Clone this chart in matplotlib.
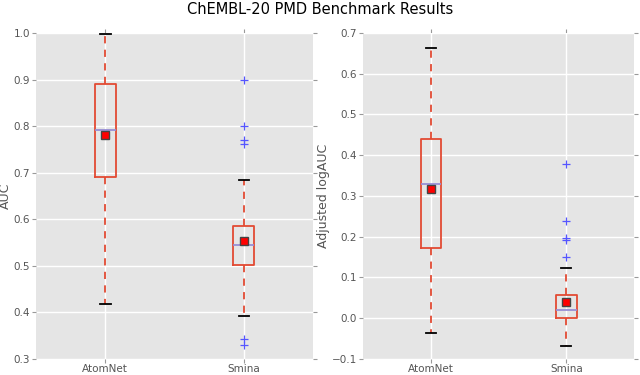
import matplotlib
matplotlib.use("Agg")
import matplotlib.pyplot as plt

categories = ["AtomNet", "Smina"]

# AUC panel: whislo, q1, med, q3, whishi, mean, fliers
auc_whislo = [0.417, 0.392]
auc_q1 = [0.690, 0.502]
auc_med = [0.792, 0.545]
auc_q3 = [0.891, 0.585]
auc_whishi = [0.998, 0.685]
auc_mean = [0.780, 0.553]
auc_fliers = [[], [0.900, 0.800, 0.771, 0.761, 0.343, 0.330]]

# Adjusted logAUC panel
log_whislo = [-0.037, -0.069]
log_q1 = [0.171, 0.000]
log_med = [0.329, 0.021]
log_q3 = [0.440, 0.058]
log_whishi = [0.663, 0.124]
log_mean = [0.317, 0.040]
log_fliers = [[], [0.378, 0.238, 0.196, 0.193, 0.151]]

auc_ticks = [0.3, 0.4, 0.5, 0.6, 0.7, 0.8, 0.9, 1.0]
log_ticks = [-0.1, 0.0, 0.1, 0.2, 0.3, 0.4, 0.5, 0.6, 0.7]

RED = "#E24A33"
MED = "#988ED5"

fig = plt.figure(figsize=(6.4, 3.75), dpi=100)
ax1 = fig.add_axes([0.0563, 0.043, 0.433, 0.869])
ax2 = fig.add_axes([0.567, 0.043, 0.424, 0.869])


def build(whislo, q1, med, q3, whishi, mean, fliers):
    stats = []
    for i, c in enumerate(categories):
        stats.append(dict(label=c, whislo=whislo[i], q1=q1[i], med=med[i],
                          q3=q3[i], whishi=whishi[i], mean=mean[i],
                          fliers=fliers[i]))
    return stats


def draw(ax, stats, ticks, ylabel, ylim):
    ax.set_facecolor("#E5E5E5")
    ax.bxp(stats, positions=[1, 2], widths=0.15, showmeans=True,
           boxprops=dict(color=RED, linewidth=1.3),
           whiskerprops=dict(color=RED, linewidth=1.3, linestyle=(0, (4, 3.5))),
           capprops=dict(color="black", linewidth=1.3),
           medianprops=dict(color=MED, linewidth=1.3),
           flierprops=dict(marker="+", markeredgecolor="#5555ff",
                           markersize=6, markeredgewidth=0.9, linestyle="none"),
           meanprops=dict(marker="s", markerfacecolor="red",
                          markeredgecolor="#444444", markersize=5.5))
    ax.set_xlim(0.5, 2.5)
    ax.set_ylim(*ylim)
    ax.set_yticks(ticks)
    ax.set_yticklabels(["%.1f" % t if t >= 0 else "\u22120.1" for t in ticks])
    ax.set_xticks([1, 2])
    ax.set_xticklabels(categories)
    ax.grid(True, color="white", linewidth=1.0)
    ax.set_axisbelow(True)
    for s in ax.spines.values():
        s.set_visible(False)
    ax.tick_params(axis="both", direction="out", colors="#999999",
                   labelcolor="#555555", labelsize=7.5, length=3, pad=1.2,
                   top=True, right=True)
    ax.tick_params(axis="x", pad=0.8)
    ax.set_ylabel(ylabel, fontsize=9, color="#555555", labelpad=1)


draw(ax1, build(auc_whislo, auc_q1, auc_med, auc_q3, auc_whishi, auc_mean, auc_fliers),
     auc_ticks, "AUC", (0.3, 1.0))
draw(ax2, build(log_whislo, log_q1, log_med, log_q3, log_whishi, log_mean, log_fliers),
     log_ticks, "Adjusted logAUC", (-0.1, 0.7))

fig.suptitle("ChEMBL-20 PMD Benchmark Results", fontsize=10.5, y=0.995)

fig.savefig("out.png", dpi=100)
